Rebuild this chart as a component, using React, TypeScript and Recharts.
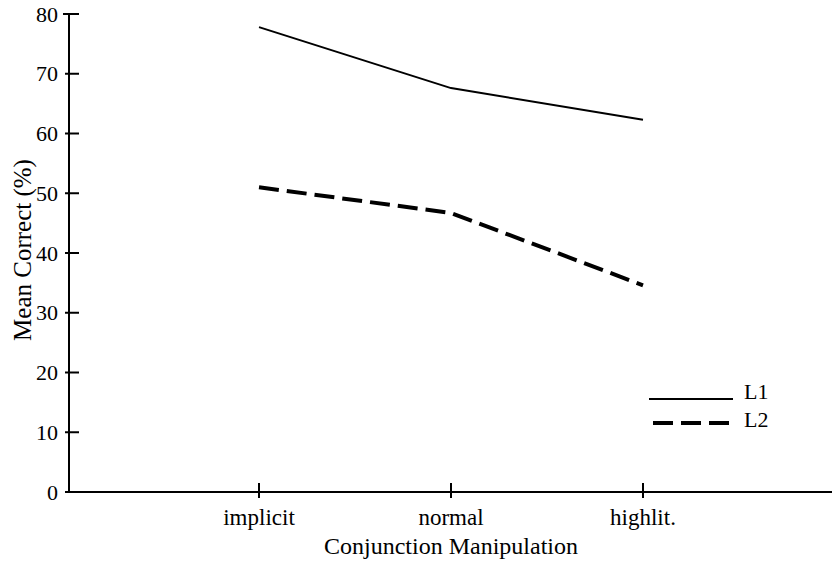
import React from 'react';
import { LineChart, Line, XAxis, YAxis, Label } from 'recharts';

const categories = ['implicit', 'normal', 'highlit.'];
const l1Values = [77.8, 67.6, 62.3];
const l2Values = [51.0, 46.7, 34.6];
const yTicks = [0, 10, 20, 30, 40, 50, 60, 70, 80];

const data = categories.map((cat, i) => ({ cat, L1: l1Values[i], L2: l2Values[i] }));

const serif = { fontFamily: "'Liberation Serif', 'Times New Roman', serif" };
const axisX = 69;
const axisY = 492;

const YTick = (props: any) => {
  const { y, payload } = props;
  return (
    <g>
      <line x1={payload.value === 80 ? axisX - 6 : axisX - 4} x2={axisX + 10} y1={y} y2={y} stroke="#000" strokeWidth={2} />
      <text x={axisX - 11} y={y} dy="0.35em" textAnchor="end" style={serif} fontSize={22} fill="#000">
        {payload.value}
      </text>
    </g>
  );
};

const XTick = (props: any) => {
  const { x, payload } = props;
  return (
    <g>
      <line x1={x} x2={x} y1={axisY - 9} y2={axisY + 6} stroke="#000" strokeWidth={2} />
      <text x={x} y={axisY + 33} textAnchor="middle" style={serif} fontSize={23} fill="#000">
        {payload.value}
      </text>
    </g>
  );
};

const YTitle = () => (
  <text x={31} y={250} transform="rotate(-90, 31, 250)" textAnchor="middle" style={serif} fontSize={25} fill="#000">
    Mean Correct (%)
  </text>
);

const XTitle = () => (
  <text x={451} y={554} textAnchor="middle" style={serif} fontSize={24} fill="#000">
    Conjunction Manipulation
  </text>
);

const LegendBox = () => (
  <svg width={150} height={60} style={{ position: 'absolute', left: 640, top: 380 }}>
    <line x1={9} x2={93} y1={19} y2={19} stroke="#000" strokeWidth={2} />
    <text x={104} y={19} style={serif} fontSize={22} fill="#000">L1</text>
    <line x1={13} x2={90} y1={43} y2={43} stroke="#000" strokeWidth={4} strokeDasharray="20 8" />
    <text x={104} y={47} style={serif} fontSize={22} fill="#000">L2</text>
  </svg>
);

export default function App() {
  return (
    <div style={{ position: 'absolute', left: 0, top: 0, width: 832, height: 561, background: '#fff' }}>
      <LineChart width={832} height={561} data={data} margin={{ top: 14, right: 0, left: 0, bottom: 0 }}>
        <XAxis
          dataKey="cat"
          type="category"
          height={69}
          padding={{ left: 190, right: 189 }}
          axisLine={{ stroke: '#000', strokeWidth: 2 }}
          tickLine={false}
          tick={<XTick />}
          interval={0}
        >
          <Label content={<XTitle />} />
        </XAxis>
        <YAxis
          width={axisX}
          domain={[0, 80]}
          ticks={yTicks}
          axisLine={{ stroke: '#000', strokeWidth: 2 }}
          tickLine={false}
          tick={<YTick />}
          interval={0}
        >
          <Label content={<YTitle />} />
        </YAxis>
        <Line type="linear" dataKey="L1" stroke="#000" strokeWidth={2} dot={false} isAnimationActive={false} />
        <Line type="linear" dataKey="L2" stroke="#000" strokeWidth={4} strokeDasharray="20 8" dot={false} isAnimationActive={false} />
      </LineChart>
      <LegendBox />
    </div>
  );
}
